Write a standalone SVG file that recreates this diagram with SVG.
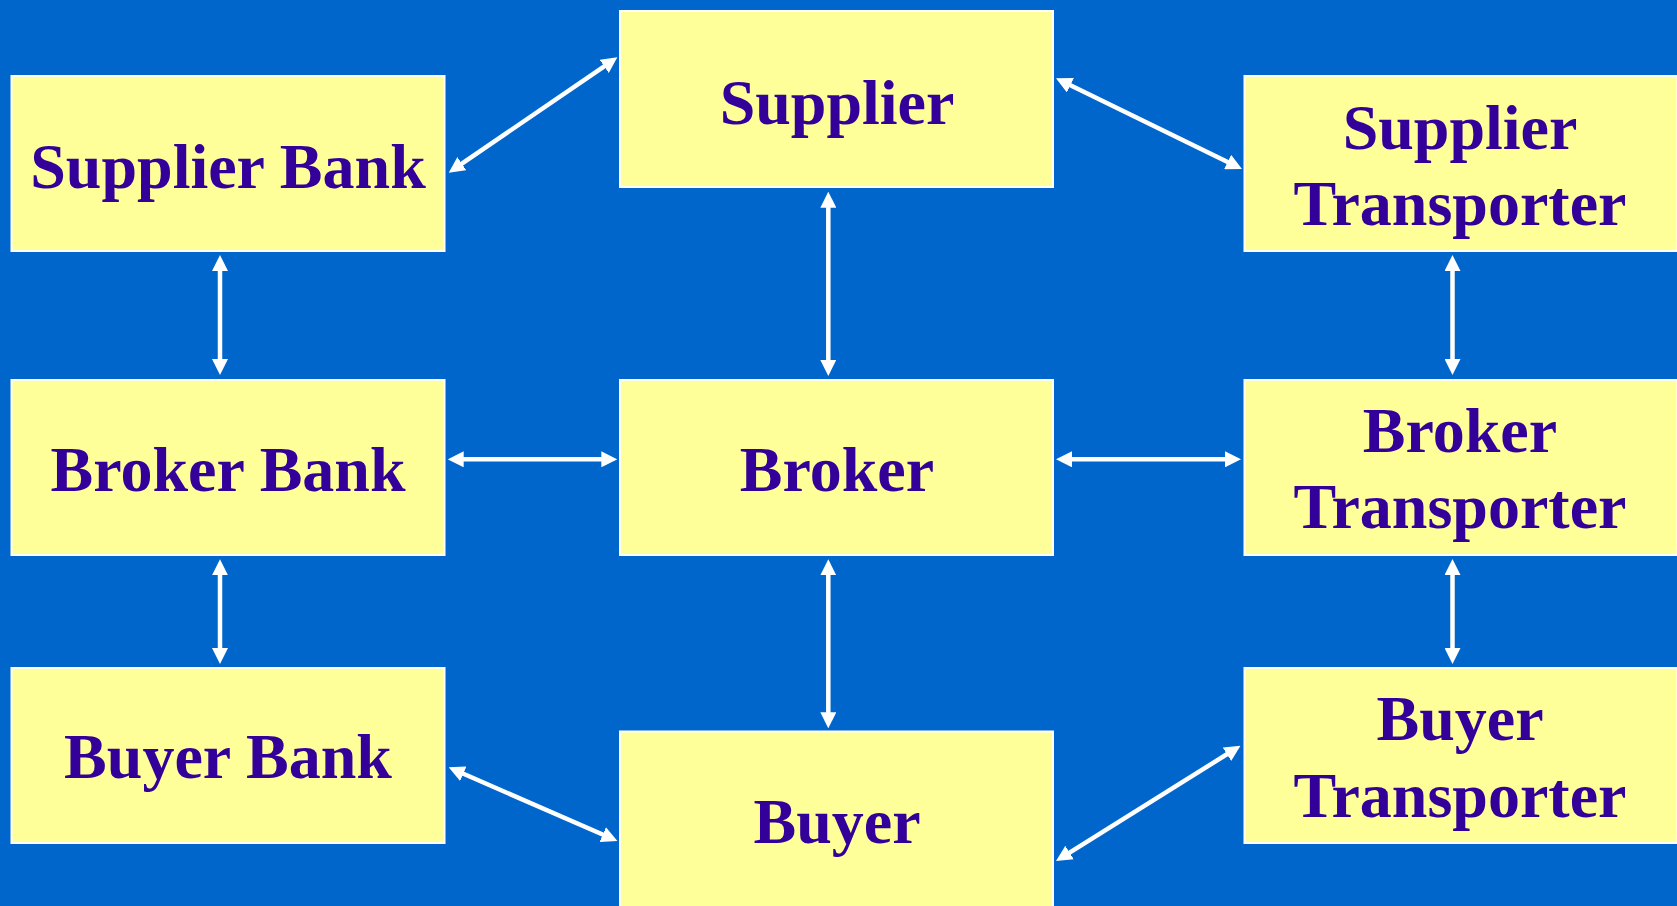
<svg xmlns="http://www.w3.org/2000/svg" width="1677" height="906" viewBox="0 0 1677 906">
  <style>
    .box { fill: #FFFF99; stroke: #FFFFFF; stroke-width: 2; }
    .lbl { font-family: "Liberation Serif", "Times New Roman", serif; font-weight: bold; font-size: 64px; fill: #330099; text-anchor: middle; }
    .conn { stroke: #FFFFFF; stroke-width: 4.5; fill: none; marker-start: url(#ah); marker-end: url(#ah); }
  </style>
  <defs>
    <marker id="ah" viewBox="0 -8 16 16" refX="8" refY="0" markerWidth="16" markerHeight="16" markerUnits="userSpaceOnUse" orient="auto-start-reverse">
      <path d="M0,-8 L16,0 L0,8 z" fill="#FFFFFF"/>
    </marker>
  </defs>
  <rect x="0" y="0" width="1677" height="906" fill="#0066CC"/>

  <g id="supplier-bank">
    <rect class="box" x="11.5" y="76" width="433" height="175"/>
    <text class="lbl" x="228" y="188">Supplier Bank</text>
  </g>
  <g id="supplier">
    <rect class="box" x="620" y="11" width="433" height="176"/>
    <text class="lbl" x="837" y="124">Supplier</text>
  </g>
  <g id="supplier-transporter">
    <rect class="box" x="1244.5" y="76" width="433" height="175"/>
    <text class="lbl" x="1460" y="149">Supplier</text>
    <text class="lbl" x="1460" y="225">Transporter</text>
  </g>
  <g id="broker-bank">
    <rect class="box" x="11.5" y="380" width="433" height="175"/>
    <text class="lbl" x="228" y="491">Broker Bank</text>
  </g>
  <g id="broker">
    <rect class="box" x="620" y="380" width="433" height="175"/>
    <text class="lbl" x="837" y="491">Broker</text>
  </g>
  <g id="broker-transporter">
    <rect class="box" x="1244.5" y="380" width="433" height="175"/>
    <text class="lbl" x="1460" y="452">Broker</text>
    <text class="lbl" x="1460" y="528">Transporter</text>
  </g>
  <g id="buyer-bank">
    <rect class="box" x="11.5" y="668" width="433" height="175"/>
    <text class="lbl" x="228" y="778">Buyer Bank</text>
  </g>
  <g id="buyer">
    <rect class="box" x="620" y="731.5" width="433" height="176"/>
    <text class="lbl" x="837" y="843">Buyer</text>
  </g>
  <g id="buyer-transporter">
    <rect class="box" x="1244.5" y="668" width="433" height="175"/>
    <text class="lbl" x="1460" y="740">Buyer</text>
    <text class="lbl" x="1460" y="817">Transporter</text>
  </g>

  <g id="connectors">
    <line class="conn" x1="455.3" y1="168.2" x2="610.8" y2="61.8"/>
    <line class="conn" x1="1063.2" y1="81.8" x2="1234.8" y2="165.5"/>
    <line class="conn" x1="220" y1="263" x2="220" y2="367"/>
    <line class="conn" x1="828.3" y1="199.7" x2="828.3" y2="368"/>
    <line class="conn" x1="1452.5" y1="263" x2="1452.5" y2="367"/>
    <line class="conn" x1="455.7" y1="459.3" x2="609.3" y2="459.3"/>
    <line class="conn" x1="1064" y1="459.3" x2="1233" y2="459.3"/>
    <line class="conn" x1="220" y1="567.3" x2="220" y2="656"/>
    <line class="conn" x1="828.3" y1="567.3" x2="828.3" y2="720.3"/>
    <line class="conn" x1="1452.5" y1="567" x2="1452.5" y2="656"/>
    <line class="conn" x1="456" y1="770.5" x2="610.1" y2="837.8"/>
    <line class="conn" x1="1062.8" y1="856.8" x2="1233.7" y2="750"/>
  </g>
</svg>
